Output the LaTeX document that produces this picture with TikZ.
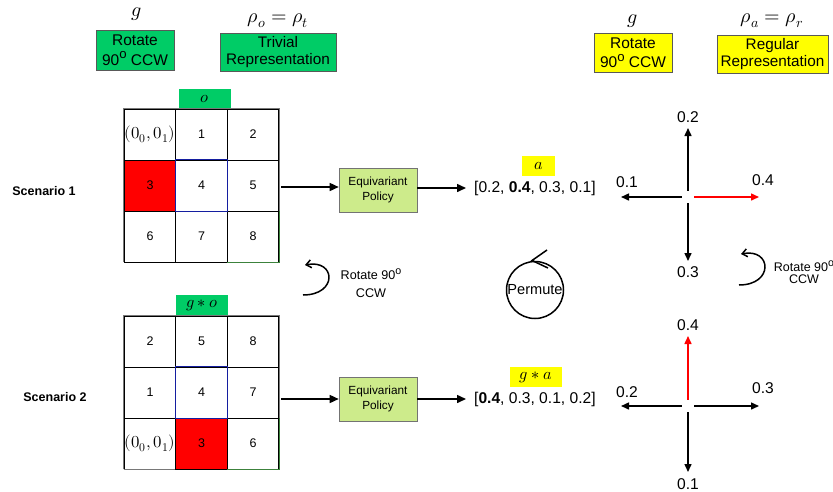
\documentclass[tikz,border=0pt]{standalone}
\usepackage{fontspec}
\usepackage{unicode-math}
\setmainfont{Liberation Sans}
\setmathfont{Latin Modern Math}
\usetikzlibrary{arrows.meta,calc}
\definecolor{tagGreen}{RGB}{0,204,102}
\definecolor{tagYellow}{RGB}{255,255,0}
\definecolor{policyGreen}{RGB}{205,235,139}
\definecolor{frameGray}{RGB}{120,120,120}
\definecolor{cellBlue}{RGB}{20,30,160}
\definecolor{cellGreen}{RGB}{60,130,60}
\newcommand{\degsym}{\raisebox{0.42em}{\scalebox{0.85}{o}}}
\newcommand{\mathsz}[1]{\fontsize{#1}{#1}\selectfont}
\begin{document}
\begin{tikzpicture}[x=1pt,y=-1pt,
  every node/.style={inner sep=0pt, align=center},
  tagbox/.style={draw=black!65, line width=0.6pt},
  rotbox/.style={tagbox, font=\fontsize{15.5}{19.5}\selectfont},
  repbox/.style={tagbox, font=\fontsize{15.3}{17}\selectfont},
  cell/.style={draw=black, line width=0.9pt, minimum width=51.7pt, minimum height=51pt, font=\fontsize{12.5}{13}\selectfont},
  policy/.style={draw=black!55, line width=0.6pt, fill=policyGreen, minimum width=78pt, minimum height=44pt, font=\fontsize{11.8}{14.3}\selectfont},
  flow/.style={line width=1.5pt, -{Triangle[length=9pt,width=8pt]}},
  dir/.style={line width=1.5pt, -{Triangle[length=8pt,width=7pt]}},
  num/.style={font=\fontsize{15.6}{16}\selectfont},
  rot/.style={line width=1.5pt, -{Straight Barb[length=5pt,width=8pt]}},
  scen/.style={font=\bfseries\fontsize{12.5}{14}\selectfont}
]
\useasboundingbox (0,0) rectangle (833,491);

% ---- group element and representation headers ----
\node (g1) at (137,14) {\mathsz{20}$g$};
\node[rotbox, fill=tagGreen, minimum width=78pt, minimum height=40pt] (rotL) at (135,50) {Rotate\\90\degsym\ CCW};
\node (rhoL) at (278,21) {\mathsz{20}$\rho_o=\rho_t$};
\node[repbox, fill=tagGreen, minimum width=116pt, minimum height=38pt] (repL) at (278,52) {Trivial\\Representation};

\node (g2) at (633,21) {\mathsz{20}$g$};
\node[rotbox, fill=tagYellow, minimum width=78pt, minimum height=39pt] (rotR) at (633,52.5) {Rotate\\90\degsym\ CCW};
\node (rhoR) at (772,21) {\mathsz{20}$\rho_a=\rho_r$};
\node[repbox, fill=tagYellow, minimum width=111pt, minimum height=38pt] (repR) at (772.5,54) {Regular\\Representation};

% ---- scenario 1 grid ----
\node[fill=tagGreen, minimum width=52pt, minimum height=20pt] (obs1) at (205,99) {\mathsz{16.3}$o$};
\node[cell] (a11) at (150,134.5) {};
\node (a11t) at (a11.center) {\mathsz{16.8}$(0_0,0_1)$};
\node[cell] (a12) at (201.5,134.5) {1};
\node[cell] (a13) at (253,134.5) {2};
\node[cell, fill=red] (a21) at (150,185.5) {3};
\node[cell] (a22) at (201.5,185.5) {4};
\node[cell] (a23) at (253,185.5) {5};
\node[cell] (a31) at (150,236.5) {6};
\node[cell] (a32) at (201.5,236.5) {7};
\node[cell] (a33) at (253,236.5) {8};
\draw[cellBlue, line width=0.9pt] (a22.south west) rectangle (a22.north east);
\draw[frameGray, line width=0.9pt] (a31.south west) |- (a13.north east) -- (a23.south east);
\draw[cellGreen, line width=0.9pt] (a33.north east) -- (a33.south east) -- (a33.south west);

% ---- scenario 2 grid ----
\node[fill=tagGreen, minimum width=52pt, minimum height=21pt] (obs2) at (202,305.5) {\mathsz{16.3}$g*o$};
\node[cell] (b11) at (150,341.5) {2};
\node[cell] (b12) at (201.5,341.5) {5};
\node[cell] (b13) at (253,341.5) {8};
\node[cell] (b21) at (150,392.5) {1};
\node[cell] (b22) at (201.5,392.5) {4};
\node[cell] (b23) at (253,392.5) {7};
\node[cell] (b31) at (150,443.5) {};
\node (b31t) at (b31.center) {\mathsz{16.8}$(0_0,0_1)$};
\node[cell, fill=red] (b32) at (201.5,443.5) {3};
\node[cell] (b33) at (253,443.5) {6};
\draw[cellBlue, line width=0.9pt] (b22.south west) rectangle (b22.north east);
\draw[frameGray, line width=0.9pt] (b31.south west) |- (b13.north east) -- (b23.south east);
\draw[cellGreen, line width=0.9pt] (b33.north east) -- (b33.south east) -- (b33.south west);
\draw[frameGray, line width=0.9pt] (b31.south west) -- (b32.south west);

% ---- scenario labels ----
\node[scen] (s1) at (44,191) {Scenario 1};
\node[scen] (s2) at (55,397) {Scenario 2};

% ---- policies and outputs ----
\node[policy] (p1) at (378,190) {Equivariant\\Policy};
\node[policy] (p2) at (378,399) {Equivariant\\Policy};
\node[num, anchor=west] (out1) at (474,188) {[0.2, \textbf{0.4}, 0.3, 0.1]};
\node[num, anchor=west] (out2) at (474,399) {[\textbf{0.4}, 0.3, 0.1, 0.2]};
\node[fill=tagYellow, minimum width=33pt, minimum height=20pt] (act1) at (538.5,166) {\mathsz{16.3}$a$};
\node[fill=tagYellow, minimum width=52pt, minimum height=20pt] (act2) at (536,377) {\mathsz{16.3}$g*a$};

\coordinate (g1out) at ($(a23.east)+(2,1.5)$);
\coordinate (g2out) at ($(b23.east |- p2.west)+(2,0)$);
\draw[flow] (g1out) -- (p1.west |- g1out);
\draw[flow] (g2out) -- (p2.west);
\draw[flow] (p1.east |- out1.west) -- ($(out1.west)+(-8,0)$);
\draw[flow] (p2.east |- out2.west) -- ($(out2.west)+(-8,0)$);

% ---- rotation between scenarios ----
\coordinate (rl0) at (303,295);
\coordinate (rl1) at (305,265);
\draw[rot] (rl0) .. controls (338,295) and (336,259) .. (rl1);
\node[font=\fontsize{12.6}{17.5}\selectfont] (rlt) at (371,283) {Rotate 90\degsym\\CCW};

\coordinate (rr0) at (739,285);
\coordinate (rr1) at (741,254);
\draw[rot] (rr0) .. controls (774,285) and (772,248) .. (rr1);
\node[font=\fontsize{12.5}{12}\selectfont] (rrt) at (804,272) {Rotate 90\degsym\\CCW};

% ---- permutation of action entries ----
\node[draw, circle, line width=1.5pt, minimum size=57pt] (perm) at (535,290) {};
\node[font=\fontsize{14.6}{15}\selectfont] (permt) at (perm.center) {Permute};
\draw[line width=1.5pt] ($(perm.center)+(12,-40)$) -- ($(perm.center)+(-3,-29.5)$) -- ($(perm.center)+(13,-22)$);

% ---- action arrows, scenario 1 ----
\node[minimum size=12pt] (h1) at (688,197) {};
\coordinate (u1) at (688,128);
\coordinate (d1) at (688,261);
\coordinate (l1) at (621,197);
\coordinate (r1) at (759,197);
\draw[dir] (h1) -- (u1);
\draw[dir] (h1) -- (d1);
\draw[dir] (h1) -- (l1);
\draw[dir, red] (h1) -- (r1);
\node[num] (t1u) at (688,117) {0.2};
\node[num] (t1d) at (688,272) {0.3};
\node[num] (t1l) at (627,182) {0.1};
\node[num] (t1r) at (763,180) {0.4};

% ---- action arrows, scenario 2 ----
\node[minimum size=12pt] (h2) at (688,406) {};
\coordinate (u2) at (688,336);
\coordinate (d2) at (688,472);
\coordinate (l2) at (621,406);
\coordinate (r2) at (759,406);
\draw[dir, red] (h2) -- (u2);
\draw[dir] (h2) -- (d2);
\draw[dir] (h2) -- (l2);
\draw[dir] (h2) -- (r2);
\node[num] (t2u) at (688,325) {0.4};
\node[num] (t2d) at (688,484) {0.1};
\node[num] (t2l) at (627,392) {0.2};
\node[num] (t2r) at (763,388) {0.3};
\end{tikzpicture}
\end{document}
